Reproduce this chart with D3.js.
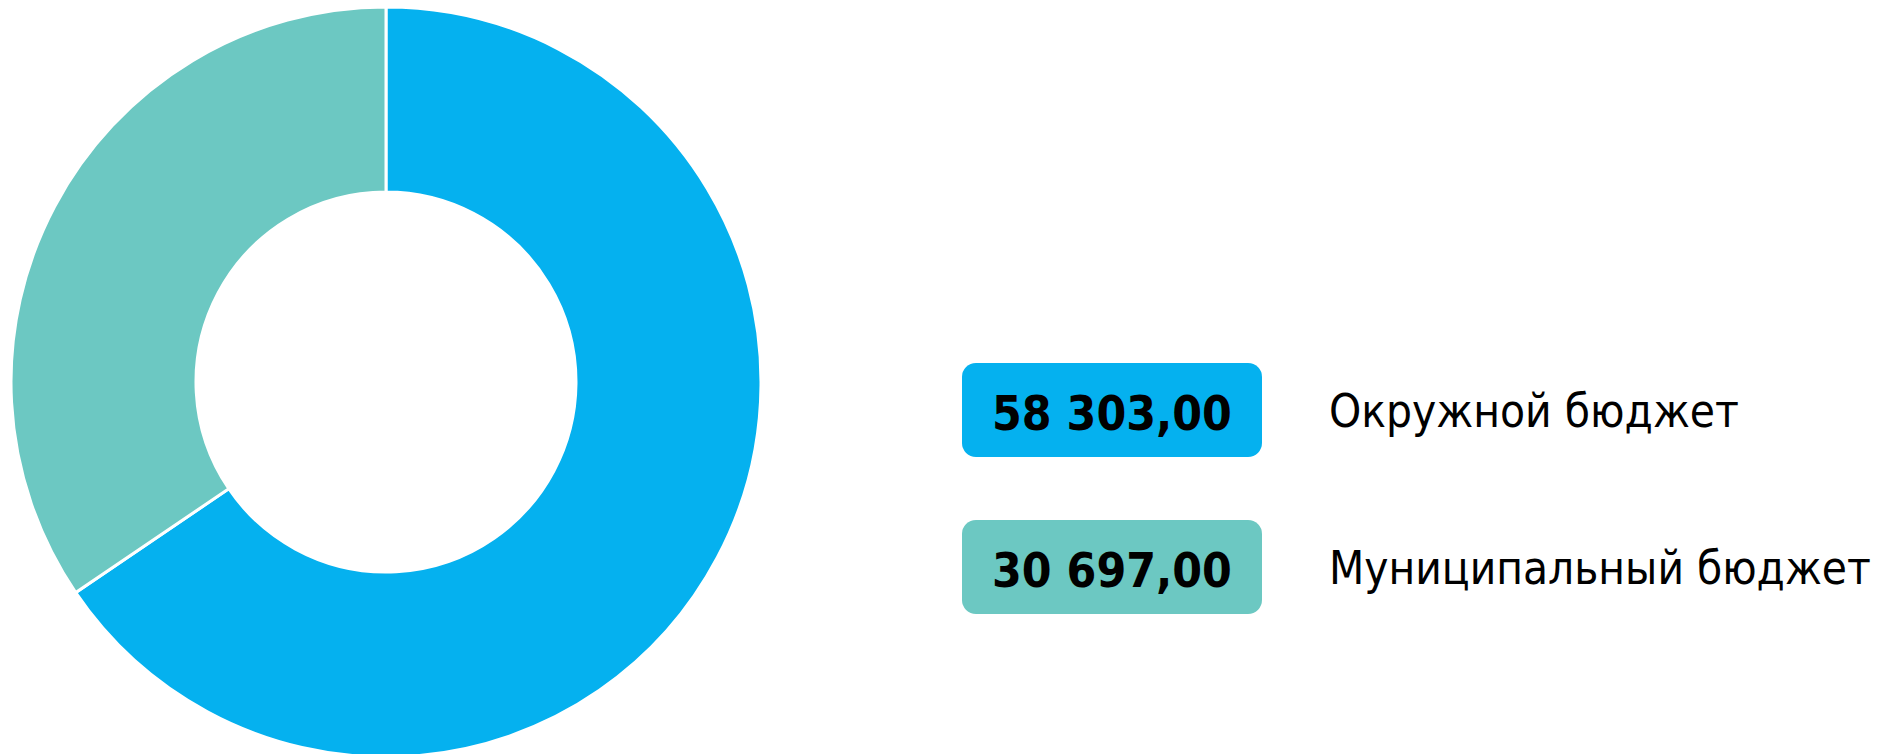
<!DOCTYPE html>
<html>
<head>
<meta charset="utf-8">
<script src="https://cdn.jsdelivr.net/npm/d3@7"></script>
<style>
  html, body { margin: 0; padding: 0; background: #fff; overflow: hidden; }
  .amount { font-family: "DejaVu Sans Condensed", "DejaVu Sans", sans-serif; font-weight: bold; font-size: 51px; fill: #000; }
  .label { font-family: "DejaVu Sans Condensed", "DejaVu Sans", sans-serif; font-size: 49px; fill: #000; }
</style>
</head>
<body>
<svg id="chart" width="1887" height="754"></svg>
<script>
// data
const categories = ["Окружной бюджет", "Муниципальный бюджет"];
const values = [58303, 30697];
const amountLabels = ["58 303,00", "30 697,00"];
const colors = ["#05B1EF", "#6CC8C2"];

const svg = d3.select("#chart");

// donut
const pie = d3.pie().sort(null).value(d => d);
const arc = d3.arc().innerRadius(190).outerRadius(375);

svg.append("g")
  .attr("id", "donut")
  .attr("transform", "translate(386,382)")
  .selectAll("path")
  .data(pie(values))
  .enter()
  .append("path")
  .attr("d", arc)
  .attr("fill", (d, i) => colors[i])
  .attr("stroke", "#fff")
  .attr("stroke-width", 3);

// legend
const legendY = d3.scalePoint().domain(categories).range([363, 520]);
const textWidths = [410, 542];

const items = svg.append("g")
  .attr("id", "legend")
  .selectAll("g")
  .data(categories)
  .enter()
  .append("g")
  .attr("transform", d => "translate(962," + legendY(d) + ")");

items.append("rect")
  .attr("width", 300)
  .attr("height", 94)
  .attr("rx", 14)
  .attr("fill", (d, i) => colors[i]);

items.append("text")
  .attr("class", "amount")
  .attr("x", 150)
  .attr("y", 67)
  .attr("text-anchor", "middle")
  .text((d, i) => amountLabels[i])
  .each(function() { fitText(this, 240); });

items.append("text")
  .attr("class", "label")
  .attr("x", 367)
  .attr("y", 64)
  .text(d => d)
  .each(function(d, i) { fitText(this, textWidths[i]); });

// shrink a text that is too wide, stretch one that is too narrow
function fitText(node, target) {
  let w = node.getComputedTextLength();
  if (w > target) {
    let size = parseFloat(getComputedStyle(node).fontSize);
    d3.select(node).style("font-size", (size * target / w) + "px");
  } else {
    d3.select(node)
      .attr("textLength", target)
      .attr("lengthAdjust", "spacingAndGlyphs");
  }
}
</script>
</body>
</html>
